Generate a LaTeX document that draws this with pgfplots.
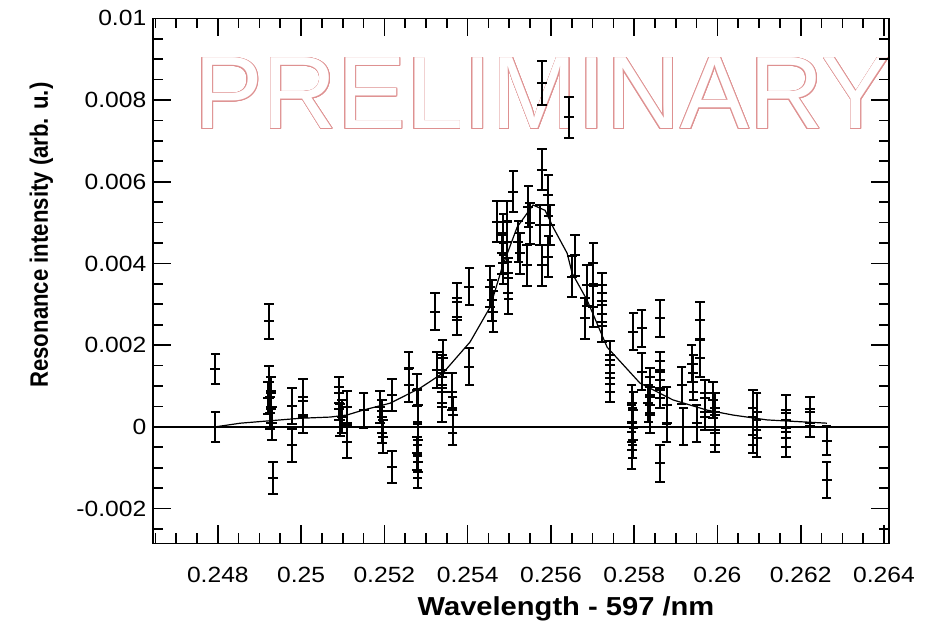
\documentclass[border=0pt]{standalone}
\usepackage{fontspec}
\setmainfont{Liberation Sans}[FakeStretch=1.12]
\newfontfamily\yfont{Liberation Sans}[FakeStretch=0.88]
\newfontfamily\prelimfont{Liberation Sans}
\usepackage{pgfplots}
\pgfplotsset{compat=1.18}
\usepackage{pgfplotstable}
\definecolor{prelim}{RGB}{222,145,145}

\pgfplotstableread{
x y ey
0.24794 0.00142 0.00037
0.24794 0.00000 0.00037
0.24923 0.00258 0.00043
0.24923 0.00110 0.00040
0.24928 0.00083 0.00040
0.24921 0.00071 0.00040
0.24928 0.00049 0.00040
0.24926 0.00034 0.00040
0.24930 0.00009 0.00040
0.24933 -0.00125 0.00040
0.24978 0.00051 0.00045
0.24978 -0.00045 0.00040
0.25005 0.00073 0.00045
0.25005 0.00024 0.00040
0.25091 0.00083 0.00040
0.25091 0.00058 0.00040
0.25094 0.00017 0.00040
0.25098 0.00025 0.00040
0.25110 0.00049 0.00040
0.25110 -0.00036 0.00040
0.25150 0.00041 0.00043
0.25190 0.00049 0.00040
0.25194 0.00025 0.00040
0.25194 0.00000 0.00040
0.25196 -0.00024 0.00040
0.25218 0.00078 0.00040
0.25218 -0.00098 0.00040
0.25258 0.00143 0.00040
0.25258 0.00102 0.00040
0.25278 0.00090 0.00040
0.25280 0.00053 0.00040
0.25280 -0.00032 0.00040
0.25278 -0.00065 0.00040
0.25280 -0.00085 0.00040
0.25280 -0.00110 0.00040
0.25322 0.00282 0.00045
0.25326 0.00139 0.00045
0.25340 0.00168 0.00045
0.25338 0.00131 0.00045
0.25338 0.00094 0.00045
0.25338 0.00058 0.00045
0.25362 0.00086 0.00045
0.25364 0.00029 0.00045
0.25364 0.00000 0.00045
0.25374 0.00306 0.00045
0.25374 0.00270 0.00045
0.25404 0.00147 0.00045
0.25404 0.00343 0.00045
0.25454 0.00343 0.00050
0.25458 0.00310 0.00050
0.25462 0.00282 0.00050
0.25486 0.00400 0.00050
0.25498 0.00364 0.00050
0.25498 0.00327 0.00050
0.25542 0.00396 0.00050
0.25578 0.00396 0.00050
0.25650 0.00367 0.00050
0.25686 0.00347 0.00050
0.25682 0.00266 0.00050
0.25702 0.00400 0.00050
0.25702 0.00294 0.00050
0.25722 0.00257 0.00050
0.25742 0.00164 0.00045
0.25742 0.00131 0.00045
0.25742 0.00106 0.00045
0.25578 0.00842 0.00053
0.25644 0.00758 0.00050
0.25578 0.00629 0.00050
0.25510 0.00576 0.00050
0.25594 0.00567 0.00050
0.25546 0.00539 0.00050
0.25470 0.00502 0.00050
0.25494 0.00502 0.00050
0.25486 0.00470 0.00050
0.25494 0.00453 0.00050
0.25522 0.00453 0.00050
0.25550 0.00498 0.00050
0.25574 0.00494 0.00050
0.25598 0.00494 0.00050
0.25482 0.00425 0.00050
0.25526 0.00425 0.00050
0.25594 0.00416 0.00050
0.25658 0.00420 0.00050
0.25722 0.00327 0.00050
0.25722 0.00298 0.00050
0.25798 0.00233 0.00045
0.25818 0.00241 0.00045
0.25862 0.00266 0.00045
0.25958 0.00261 0.00045
0.25794 0.00058 0.00045
0.25798 0.00041 0.00045
0.25794 0.00009 0.00045
0.25796 0.00000 0.00045
0.25796 -0.00032 0.00045
0.25794 -0.00057 0.00045
0.25818 0.00135 0.00045
0.25838 0.00098 0.00045
0.25838 0.00078 0.00045
0.25834 0.00058 0.00045
0.25838 0.00029 0.00045
0.25862 0.00139 0.00045
0.25862 0.00115 0.00045
0.25862 0.00090 0.00045
0.25862 -0.00089 0.00045
0.25878 0.00053 0.00045
0.25878 0.00009 0.00045
0.25914 0.00102 0.00045
0.25918 0.00000 0.00045
0.25942 0.00110 0.00045
0.25942 0.00131 0.00045
0.25938 0.00155 0.00045
0.25958 0.00168 0.00045
0.25950 0.00009 0.00045
0.25970 0.00070 0.00045
0.25970 0.00037 0.00045
0.25990 0.00066 0.00045
0.25994 0.00037 0.00045
0.25994 0.00000 0.00045
0.25994 -0.00016 0.00045
0.26086 0.00045 0.00045
0.26094 0.00037 0.00045
0.26086 0.00000 0.00045
0.26086 -0.00020 0.00045
0.26094 -0.00028 0.00045
0.26164 0.00033 0.00045
0.26164 -0.00004 0.00045
0.26164 -0.00028 0.00045
0.26222 0.00037 0.00035
0.26222 0.00009 0.00035
0.26262 -0.00034 0.00035
0.26262 -0.00130 0.00045
}\datatable

\pgfplotstableread{
x y
0.24794 0.00000
0.24854 0.00009
0.24998 0.00021
0.25070 0.00024
0.25110 0.00029
0.25149 0.00041
0.25214 0.00058
0.25286 0.00095
0.25341 0.00132
0.25406 0.00208
0.25454 0.00293
0.25483 0.00391
0.25519 0.00489
0.25557 0.00543
0.25586 0.00530
0.25605 0.00489
0.25639 0.00425
0.25651 0.00376
0.25687 0.00310
0.25735 0.00195
0.25814 0.00107
0.25893 0.00066
0.25975 0.00041
0.26037 0.00029
0.26119 0.00017
0.26263 0.00009
}\fittable

\begin{document}
\begin{tikzpicture}
\path[use as bounding box] (-76.65pt,-39.85pt) rectangle (387.35pt,271.65pt);
% outlined watermark text
\foreach \a in {0,22.5,...,337.5}{
  \node[inner sep=0pt, text=prelim, font=\prelimfont\fontsize{51.5}{52}\selectfont, shift={(\a:0.45pt)}] at (194.6pt,224.9pt) {PRELIMINARY};
}
\node[inner sep=0pt, text=white, font=\prelimfont\fontsize{51.5}{52}\selectfont] at (194.6pt,224.9pt) {PRELIMINARY};
\begin{axis}[
  at={(0,0)}, anchor=south west,
  scale only axis, width=367.85pt, height=262.5pt,
  xmin=0.24645, xmax=0.26412, ymin=-0.00285, ymax=0.01,
  axis line style={black, line width=0.8pt},
  xtick={0.248,0.25,0.252,0.254,0.256,0.258,0.26,0.262,0.264},
  xticklabels={0.248,0.25,0.252,0.254,0.256,0.258,0.26,0.262,0.264},
  ytick={-0.002,0,0.002,0.004,0.006,0.008,0.01},
  yticklabels={-0.002,0,0.002,0.004,0.006,0.008,0.01},
  minor xtick={0.2465,0.247,0.2475,0.2480,0.2485,0.249,0.2495,0.250,0.2505,0.251,0.2515,0.252,0.2525,0.253,0.2535,0.254,0.2545,0.255,0.2555,0.256,0.2565,0.257,0.2575,0.258,0.2585,0.259,0.2595,0.260,0.2605,0.261,0.2615,0.262,0.2625,0.263,0.2635},
  minor ytick={-0.0025,-0.0015,-0.001,-0.0005,0.0005,0.001,0.0015,0.0025,0.003,0.0035,0.0045,0.005,0.0055,0.0065,0.007,0.0075,0.0085,0.009,0.0095},
  tick align=inside, xtick pos=both, ytick pos=both,
  major tick length=9pt, minor tick length=5pt,
  every tick/.style={black, line width=0.8pt},
  scaled ticks=false,
  /pgf/number format/assume math mode=true,
  ticklabel style={font=\fontsize{11}{13}\selectfont, text=black},
  xticklabel style={yshift=-8.5pt},
  clip=true,
]
\addplot[black, line width=0.7pt, forget plot] coordinates {(0.24645,0) (0.26412,0)};
\addplot[black, line width=0.6pt, mark=none] table[x=x,y=y] {\fittable};
\addplot[draw=none, mark=none,
  error bars/.cd, y dir=both, y explicit, error mark=none,
  error bar style={draw=black, solid, line width=1pt}]
  table[x=x, y=y, y error=ey] {\datatable};
\addplot[draw=none, mark=none,
  error bars/.cd, x dir=both, x fixed=0.00012, error mark=none,
  error bar style={draw=black, solid, line width=1pt}]
  table[x=x, y=y] {\datatable};
% end caps of the vertical error bars
\addplot[black, only marks, mark=-, mark size=2.4pt, mark options={line width=1pt}]
  table[x=x, y expr=\thisrow{y}+\thisrow{ey}] {\datatable};
\addplot[black, only marks, mark=-, mark size=2.4pt, mark options={line width=1pt}]
  table[x=x, y expr=\thisrow{y}-\thisrow{ey}] {\datatable};
\end{axis}
\node[anchor=base, inner sep=0pt, font=\bfseries\fontsize{13}{15}\selectfont] at (206.35pt,-35.85pt) {Wavelength - 597 /nm};
\node[anchor=base, rotate=90, inner sep=0pt, font=\yfont\bfseries\fontsize{12.6}{14}\selectfont] at (-52.65pt,154.1pt) {Resonance intensity (arb. u.)};
\end{tikzpicture}
\end{document}
